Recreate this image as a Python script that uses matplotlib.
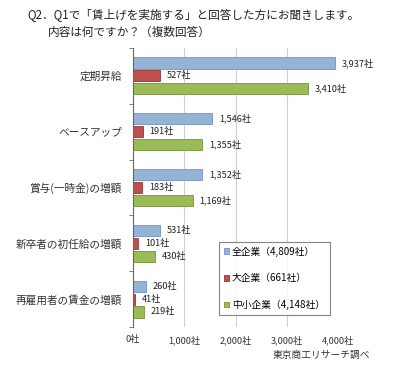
import numpy as np
import matplotlib.pyplot as plt

plt.rcParams['font.family'] = ['Noto Sans CJK JP', 'DejaVu Sans']

categories = ["定期昇給", "ベースアップ", "賞与(一時金)の増額", "新卒者の初任給の増額", "再雇用者の賃金の増額"]
all_firms = [3937, 1546, 1352, 531, 260]
large_firms = [527, 191, 183, 101, 41]
sme_firms = [3410, 1355, 1169, 430, 219]
series_names = ["全企業（4,809社）", "大企業（661社）", "中小企業（4,148社）"]
x_ticks = [0, 1000, 2000, 3000, 4000]

colors = ["#95B3D7", "#C0504D", "#9BBB59"]
edges = ["#6F93C2", "#963634", "#76923C"]

fig = plt.figure(figsize=(3.99, 3.72), dpi=100)
ax = fig.add_axes([133 / 399, 1 - 327 / 372, (338 - 133) / 399, (327 - 48) / 372])

y = np.arange(len(categories))
h = 0.2
offs = [-0.23, 0.0, 0.23]
for vals, off, c, e, name in zip([all_firms, large_firms, sme_firms], offs, colors, edges, series_names):
    ax.barh(y + off, vals, height=h, color=c, edgecolor=e, linewidth=0.6, label=name)
    for yi, v in zip(y, vals):
        ax.text(v + 130, yi + off, f"{v:,}社", va="center", ha="left", fontsize=6.6, color="#222222")

ax.set_ylim(len(categories) - 0.5, -0.5)
ax.set_xlim(0, 4000)
ax.set_xticks(x_ticks)
ax.set_xticklabels([f"{v:,}社" for v in x_ticks], fontsize=6.6, color="#333333")
ax.set_yticks(y)
ax.set_yticklabels(categories, fontsize=7.7, color="#333333")
ax.set_yticks(np.arange(len(categories) + 1) - 0.5, minor=True)
ax.tick_params(axis="y", which="major", length=0, pad=8)
ax.tick_params(axis="y", which="minor", length=3, color="#666666")
ax.tick_params(axis="x", length=0, pad=6)
ax.grid(axis="x", color="#CFCFCF", linewidth=0.8)
ax.set_axisbelow(True)
for s in ["top", "right", "bottom"]:
    ax.spines[s].set_visible(False)
ax.spines["left"].set_color("#666666")
ax.spines["left"].set_linewidth(0.8)

leg = ax.legend(loc="lower left", bbox_to_anchor=(0.42, 0.043), fontsize=7, frameon=True,
                fancybox=False, edgecolor="#666666", handlelength=0.5, handleheight=0.5,
                handletextpad=0.3, labelspacing=1.7, borderpad=0.5, borderaxespad=0)
leg.get_frame().set_linewidth(0.8)

fig.text(27 / 399, 1 - 16 / 372, "Q2．Q1で「賃上げを実施する」と回答した方にお聞きします。",
         fontsize=8.4, va="center", ha="left", color="#222222")
fig.text(48 / 399, 1 - 32 / 372, "内容は何ですか？（複数回答）",
         fontsize=8.4, va="center", ha="left", color="#222222")
fig.text(370 / 399, 1 - 355 / 372, "東京商工リサーチ調べ", fontsize=7, va="center", ha="right", color="#333333")

fig.savefig("out.png", dpi=100)
